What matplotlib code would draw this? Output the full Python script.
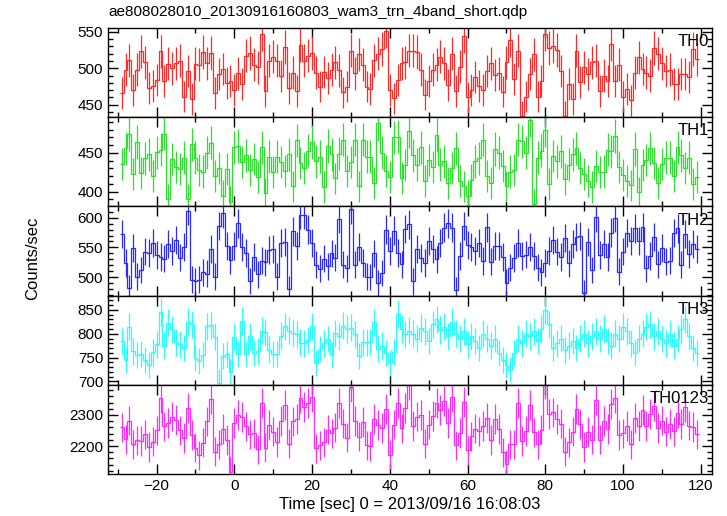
import numpy as np
import matplotlib
matplotlib.use("Agg")
import matplotlib.pyplot as plt
from matplotlib.ticker import MultipleLocator

plt.rcParams['font.family'] = ['Liberation Sans', 'DejaVu Sans']

# time bins (1 s), centres from -29 to 119 s
t_start = -29
bin_size = 1.0

th0 = [466, 498, 511, 470, 498, 523, 508, 473, 476, 484,
       523, 482, 506, 500, 507, 510, 461, 496, 458, 506,
       505, 522, 507, 521, 466, 492, 499, 480, 482, 470,
       493, 478, 517, 521, 505, 501, 547, 469, 510, 516,
       510, 489, 529, 473, 494, 469, 532, 510, 517, 521,
       494, 475, 495, 487, 498, 508, 497, 467, 475, 524,
       493, 519, 505, 475, 472, 511, 520, 526, 551, 470,
       459, 484, 507, 508, 524,
       524, 522, 498, 464, 482, 498, 505, 516, 507, 477,
       520, 469, 502, 544, 460, 470, 488, 476, 470, 496,
       507, 491, 493, 468, 508, 539, 485, 524, 435, 461,
       492, 519, 461, 482, 547, 528, 530, 525, 496, 434,
       479, 458, 524, 481, 501, 492, 508, 510, 469, 490,
       482, 533, 482, 505, 461, 472, 456, 494, 515, 499,
       494, 490, 528, 520, 507, 496, 498, 478, 478, 492,
       492, 488, 526, 512]

th1 = [436, 456, 474, 423, 464, 424, 443, 448, 420, 451,
       454, 475, 390, 442, 432, 429, 444, 390, 461, 444,
       428, 426, 450, 463, 420, 431, 395, 429, 387, 457,
       459, 438, 447, 428, 442, 419, 457, 398, 445, 425,
       445, 438, 427, 448, 407, 466, 437, 430, 453, 464,
       439, 445, 406, 459, 448, 417, 449, 467, 427, 438,
       467, 407, 467, 445, 445, 411, 488, 450, 427, 419,
       470, 471, 418, 434, 478,
       447, 435, 457, 414, 441, 432, 473, 435, 439, 411,
       431, 456, 414, 407, 395, 415, 439, 443, 467, 420,
       411, 455, 450, 433, 407, 426, 428, 467, 465, 450,
       493, 384, 444, 453, 479, 410, 446, 439, 452, 416,
       435, 448, 456, 431, 423, 414, 406, 433, 425, 426,
       454, 452, 472, 432, 422, 414, 408, 455, 399, 434,
       441, 456, 437, 411, 436, 444, 444, 420, 457, 447,
       431, 444, 410, 419]

th2 = [573, 524, 482, 549, 501, 512, 543, 541, 557, 537,
       534, 531, 555, 544, 562, 533, 551, 612, 496, 494,
       496, 508, 506, 548, 501, 586, 608, 553, 529, 553,
       591, 551, 541, 494, 534, 505, 528, 525, 546, 547,
       501, 558, 559, 480, 577, 552, 605, 605, 580, 558,
       521, 514, 531, 518, 540, 533, 598, 521, 515, 615,
       521, 550, 524, 501, 500, 540, 490, 507, 580, 544,
       578, 541, 522, 581, 589,
       493, 548, 532, 524, 561, 547, 530, 558, 583, 591,
       583, 478, 536, 586, 554, 551, 544, 558, 527, 584,
       526, 552, 552, 534, 491, 516, 532, 557, 536, 538,
       551, 536, 516, 508, 524, 544, 562, 543, 534, 566,
       523, 555, 568, 569, 473, 559, 512, 601, 537, 555,
       534, 575, 600, 509, 543, 574, 561, 582, 561, 584,
       515, 536, 568, 522, 549, 526, 528, 574, 582, 521,
       573, 539, 555, 547]

th3 = [785, 744, 815, 763, 755, 757, 744, 735, 761, 778,
       845, 775, 823, 809, 782, 778, 770, 825, 820, 750,
       742, 755, 816, 818, 794, 697, 753, 757, 720, 794,
       758, 827, 758, 795, 760, 764, 806, 803, 767, 758,
       757, 796, 816, 806, 801, 799, 781, 780, 787, 816,
       739, 768, 780, 789, 755, 801, 795, 817, 810, 813,
       799, 754, 782, 782, 783, 824, 769, 775, 760, 739,
       762, 842, 810, 799, 806,
       800, 790, 812, 805, 785, 820, 830, 808, 815, 795,
       825, 800, 790, 805, 778, 795, 785, 770, 800, 790,
       775, 790, 760, 745, 735, 725, 760, 790, 780, 800,
       795, 805, 785, 810, 850, 820, 770, 780, 790, 765,
       775, 785, 770, 790, 800, 780, 795, 805, 790, 810,
       785, 775, 800, 790, 815, 805, 780, 760, 790, 800,
       815, 820, 795, 805, 790, 780, 800, 775, 790, 810,
       830, 795, 770, 760]

band_names = ["TH0", "TH1", "TH2", "TH3", "TH0123"]
band_colors = ["#ff2a2a", "#2ee02e", "#2a2aff", "#2affff", "#ff2aff"]
band_ylims = [(433, 555), (381, 496), (469, 619), (693, 880), (2110, 2397)]
band_yticks = [[450, 500, 550], [400, 450], [500, 550, 600],
               [700, 750, 800, 850], [2200, 2300]]
band_yminor = [10, 10, 10, 10, 20]

title = "ae808028010_20130916160803_wam3_trn_4band_short.qdp"
xlabel = "Time [sec] 0 = 2013/09/16 16:08:03"
ylabel = "Counts/sec"

rates = [np.array(th0, float), np.array(th1, float),
         np.array(th2, float), np.array(th3, float)]
rates.append(rates[0] + rates[1] + rates[2] + rates[3])  # TH0123 = sum of bands

n = len(th0)
tc = t_start + np.arange(n) * bin_size
edges = np.concatenate([tc - bin_size / 2, [tc[-1] + bin_size / 2]])

fig = plt.figure(figsize=(7.27, 5.16), dpi=100)
gs = fig.add_gridspec(5, 1, left=0.1486, right=0.979, bottom=0.0814,
                      top=0.9457, hspace=0)
axes = []
for i in range(5):
    ax = fig.add_subplot(gs[i, 0], sharex=axes[0] if axes else None)
    axes.append(ax)
    v = rates[i]
    err = np.sqrt(v * bin_size) / bin_size
    col = band_colors[i]
    ax.stairs(v, edges, baseline=None, color=col, lw=0.9)
    ax.vlines(tc, v - err, v + err, color=col, lw=0.9)
    ax.set_ylim(*band_ylims[i])
    ax.set_yticks(band_yticks[i])
    ax.yaxis.set_minor_locator(MultipleLocator(band_yminor[i]))
    ax.xaxis.set_major_locator(MultipleLocator(20))
    ax.xaxis.set_minor_locator(MultipleLocator(10))
    ax.tick_params(which='both', direction='in', top=True, right=True,
                   labelsize=11, width=1.0)
    ax.tick_params(which='major', length=7)
    ax.tick_params(which='minor', length=3.5)
    for s in ax.spines.values():
        s.set_linewidth(1.0)
    ax.text(0.995, 0.93, band_names[i], transform=ax.transAxes,
            ha='right', va='top', fontsize=12)
    if i < 4:
        plt.setp(ax.get_xticklabels(), visible=False)

axes[0].set_xlim(-32.5, 122.8)
fig.text(108 / 727, 1 - 12 / 516, title, ha='left', va='center', fontsize=11)
axes[-1].set_xlabel(xlabel, fontsize=12, labelpad=3)
fig.text(0.045, 0.5, ylabel, rotation=90, ha='center', va='center',
         fontsize=12)

fig.savefig("out.png", dpi=100)
